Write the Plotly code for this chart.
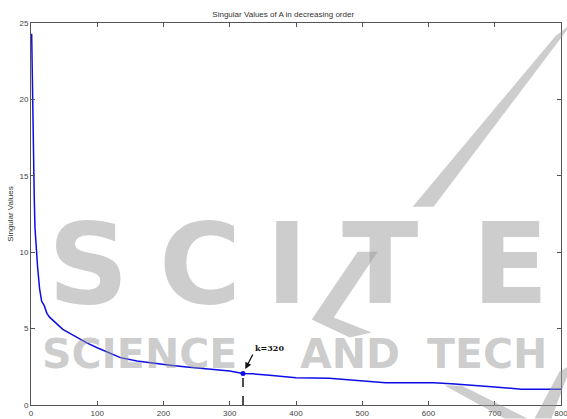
import plotly.graph_objects as go

# Singular values of A (index -> value), largest first
sv_index = [1, 2, 3, 4, 5, 6, 8, 10, 13, 16, 20, 24, 28, 34, 40, 48, 56, 64, 75, 85,
            100, 115, 135, 160, 185, 210, 235, 260, 285, 300, 320, 335, 360, 400, 450,
            480, 535, 570, 608, 640, 665, 700, 740, 770, 800]
sv_value = [24.3, 21.0, 17.6, 15.4, 13.4, 11.6, 10.0, 9.0, 7.6, 6.8, 6.5, 6.0, 5.75, 5.5,
            5.3, 4.95, 4.75, 4.55, 4.3, 4.05, 3.75, 3.45, 3.1, 2.88, 2.72, 2.6, 2.48, 2.38,
            2.28, 2.22, 2.06, 2.04, 1.95, 1.79, 1.75, 1.66, 1.46, 1.46, 1.46, 1.38, 1.28,
            1.18, 1.03, 1.03, 1.03]

k_cut = 320
k_value = sv_value[sv_index.index(k_cut)]

x_ticks = [0, 100, 200, 300, 400, 500, 600, 700, 800]
y_ticks = [0, 5, 10, 15, 20, 25]

W, H = 567, 419
L, R, T, B = 31, 561.5, 23, 405.5


def px(x):
    return (x - L) / (R - L)


def py(y):
    return (B - y) / (B - T)


def poly(points):
    return "M " + " L ".join(f"{px(a):.4f},{py(b):.4f}" for a, b in points) + " Z"


fig = go.Figure()

fig.add_trace(go.Scatter(
    x=sv_index, y=sv_value, mode="lines",
    line=dict(color="#0d0de6", width=1.5), hoverinfo="x+y", showlegend=False,
))
fig.add_trace(go.Scatter(
    x=[k_cut, k_cut], y=[0, k_value], mode="lines",
    line=dict(color="#222222", width=1.6, dash="dash"), showlegend=False,
))
fig.add_trace(go.Scatter(
    x=[k_cut], y=[k_value], mode="markers",
    marker=dict(color="#0d0de6", size=5), showlegend=False,
))

# faint publisher watermark
wm = "rgba(150,150,150,0.48)"
letters = [("S", 89), ("C", 200), ("I", 287), ("T", 380), ("E", 511)]
for ch, cx in letters:
    fig.add_annotation(
        xref="paper", yref="paper", x=px(cx), y=py(264), text=ch, showarrow=False,
        font=dict(family="DejaVu Sans", size=112, color=wm, weight="bold"),
        xanchor="center", yanchor="middle",
    )
for word, cx, anchor in [("SCIENCE", 40, "left"), ("AND", 350, "center"), ("TECH", 425, "left")]:
    fig.add_annotation(
        xref="paper", yref="paper", x=px(cx), y=py(354), text=word, showarrow=False,
        font=dict(family="DejaVu Sans", size=41, color=wm, weight="bold"),
        xanchor=anchor, yanchor="middle",
    )
fig.add_shape(type="path", xref="paper", yref="paper", layer="above", line_width=0,
              fillcolor=wm, path=poly([(556, 36), (572, 24), (434, 207), (413, 207)]))
fig.add_shape(type="path", xref="paper", yref="paper", layer="above", line_width=0,
              fillcolor=wm, path=poly([(358, 252), (378, 252), (334, 318), (372, 333),
                                       (350, 338), (312, 320)]))
fig.add_shape(type="path", xref="paper", yref="paper", layer="above", line_width=0,
              fillcolor=wm, path=poly([(445, 386), (462, 386), (528, 419), (505, 419)]))
fig.add_shape(type="path", xref="paper", yref="paper", layer="above", line_width=0,
              fillcolor=wm, path=poly([(535, 419), (560, 372), (572, 365), (552, 419)]))

fig.add_annotation(
    x=k_cut, y=k_value, ax=px(253) * 800, ay=py(355) * 25, axref="x", ayref="y",
    text="<b>k=320</b>", showarrow=True, arrowhead=2, arrowsize=1, arrowwidth=1.3,
    arrowcolor="#111111", standoff=5, xanchor="left", yanchor="bottom",
    font=dict(family="DejaVu Serif", size=8, color="#111111"),
)

axis_common = dict(
    showgrid=False, zeroline=False, ticks="inside", ticklen=4, tickwidth=1,
    tickcolor="#555555", linecolor="#555555", linewidth=1, mirror="ticks",
    showline=True, automargin=False, ticklabeloverflow="allow",
    tickfont=dict(family="Liberation Sans", size=8, color="#444444"),
)

fig.update_layout(
    width=W, height=H,
    margin=dict(l=L, r=W - R, t=T, b=H - B),
    paper_bgcolor="white", plot_bgcolor="white",
    title=dict(text="Singular Values of A in decreasing order", x=px(296), y=1 - 14 / H,
               xanchor="center", yanchor="middle",
               font=dict(family="Liberation Sans", size=8, color="#333333")),
    xaxis=dict(range=[0, 800], tickvals=x_ticks, **axis_common),
    yaxis=dict(range=[0, 25], tickvals=y_ticks,
               title=dict(text="Singular Values", standoff=4,
                          font=dict(family="Liberation Sans", size=8, color="#333333")),
               **axis_common),
)

fig.write_html("out.html")
